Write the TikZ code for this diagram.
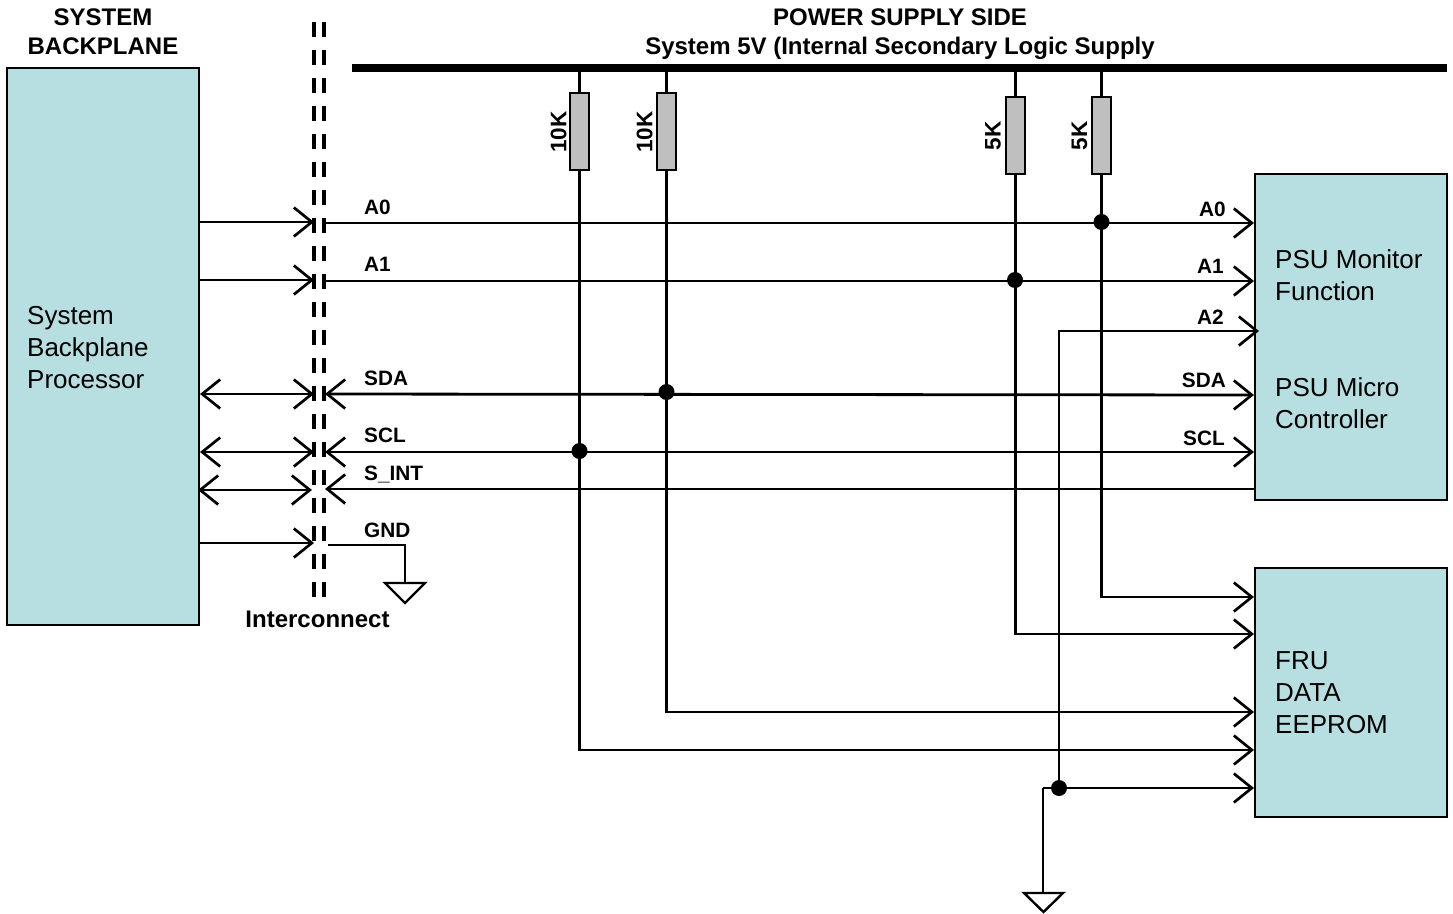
\documentclass[tikz,border=0pt]{standalone}
\usepackage{fontspec}
\setmainfont{Liberation Sans}
\usetikzlibrary{arrows.meta}
\definecolor{boxfill}{HTML}{B7DFE1}
\definecolor{resfill}{HTML}{BFBFBF}
\tikzset{
  x=1pt,y=-1pt,
  barb/.tip={Straight Barb[length=18pt,width=29pt,line width=2.7pt]},
  wire/.style={line width=2.8pt,line cap=butt,line join=miter},
  arr/.style={wire,-barb},
  biarr/.style={wire,barb-barb},
  block/.style={draw=black,line width=2.2pt,fill=boxfill,inner sep=0pt,anchor=north west},
  res/.style={draw=black,line width=2.2pt,fill=resfill,inner sep=0pt,minimum width=19pt,minimum height=77pt},
  dot/.style={circle,fill=black,inner sep=0pt,minimum size=16pt},
  sig/.style={font=\bfseries\fontsize{20.8}{24}\selectfont,inner sep=0pt},
  head/.style={font=\bfseries\fontsize{24}{29}\selectfont,inner sep=0pt,anchor=base},
  body/.style={font=\fontsize{26}{32}\selectfont,inner sep=0pt,align=left,anchor=west},
  rlabel/.style={font=\bfseries\fontsize{22.5}{24}\selectfont,inner sep=0pt,rotate=90},
  gnd/.style={draw=black,line width=2.4pt,line join=miter},
  ic/.style={line width=4pt,dash pattern=on 15pt off 13pt},
}
\begin{document}
\begin{tikzpicture}
\useasboundingbox (0,0) rectangle (1453,913);
% blocks
\node[block,minimum width=192pt,minimum height=557pt] (sys) at (5.5,66.5) {};
\node[block,minimum width=192pt,minimum height=326pt] (psu) at (1253.5,172.5) {};
\node[block,minimum width=192pt,minimum height=249pt] (fru) at (1253.5,566.5) {};
% bus
\node[fill=black,inner sep=0pt,minimum width=1095pt,minimum height=8pt,anchor=west] (bus) at (352,68) {};
% resistors
\node[res] (r1) at (579.5,131.5) {};
\node[res] (r2) at (666.5,131.5) {};
\node[res] (r3) at (1015.3,135.5) {};
\node[res] (r4) at (1101.5,135.5) {};
\node[rlabel] (l1) at (558.5,132) {10K};
\node[rlabel] (l2) at (644.5,132) {10K};
\node[rlabel] (l3) at (993,136) {5K};
\node[rlabel] (l4) at (1079.5,136) {5K};
% interconnect
\coordinate (ia) at (314,22); \coordinate (ib) at (314,597);
\coordinate (ic) at (323.5,22); \coordinate (id) at (323.5,597);
\draw[ic] (ia) -- (ib);
\draw[ic] (ic) -- (id);
% named end points
\coordinate (a0L) at (199,222); \coordinate (a0M) at (314,222);
\coordinate (a0N) at (324,223); \coordinate (a0R) at (1254,223);
\coordinate (a1L) at (199,280); \coordinate (a1M) at (314,280);
\coordinate (a1N) at (324,281); \coordinate (a1R) at (1254,281);
\coordinate (sdaL) at (200,394); \coordinate (sdaM) at (314,394);
\coordinate (sdaN) at (325,394); \coordinate (sdaR) at (1254,395);
\coordinate (sclL) at (200,452); \coordinate (sclM) at (314,452);
\coordinate (sclN) at (325,452); \coordinate (sclR) at (1254,452);
\coordinate (intL) at (198,490); \coordinate (intM) at (312,490);
\coordinate (intN) at (325,489); \coordinate (intR) at (1255,489);
\coordinate (gndL) at (199,543); \coordinate (gndM) at (314,543);
\coordinate (gndN) at (328,545); \coordinate (gndC) at (405,545); \coordinate (gndT) at (405,583);
\coordinate (a2C) at (1059,331); \coordinate (a2R) at (1259,331);
\coordinate (e1) at (1254,597); \coordinate (e2) at (1254,634);
\coordinate (e3) at (1254,712); \coordinate (e4) at (1254,750);
\coordinate (e5) at (1254,788);
\coordinate (gcorner) at (1043,788); \coordinate (g2T) at (1043,893);
% signal wires
\draw[arr] (a0L) -- (a0M);
\draw[arr] (a1L) -- (a1M);
\draw[arr] (gndL) -- (gndM);
\draw[biarr] (sdaL) -- (sdaM);
\draw[biarr] (sclL) -- (sclM);
\draw[biarr] (intL) -- (intM);
\draw[arr] (a0N) -- (a0R);
\draw[arr] (a1N) -- (a1R);
\draw[biarr] (sdaN) -- (sdaR);
\draw[biarr] (sclN) -- (sclR);
\draw[wire,barb-] (intN) -- (intR);
\draw[wire] (gndN) -- (gndC) -- (gndT);
\draw[gnd] (385,583) -- (425,583) -- (405,603) -- cycle;
% pull-ups
\foreach \r in {r1,r2,r3,r4} \draw[wire] (\r.north) -- (\r.north |- bus.south);
\draw[arr] (r4.south) |- (e1);
\draw[arr] (r3.south) |- (e2);
\draw[arr] (r2.south) |- (e3);
\draw[arr] (r1.south) |- (e4);
% A2 and ground
\draw[arr] (a2C |- e5) -- (a2C) -- (a2R);
\draw[arr] (gcorner) -- (e5);
\draw[wire] (gcorner) -- (g2T);
\draw[gnd] (1024,893) -- (1063,893) -- (1043.5,912) -- cycle;
% dots
\node[dot] (d1) at (1101.5,222) {};
\node[dot] (d2) at (1015,280) {};
\node[dot] (d3) at (666.5,392) {};
\node[dot] (d4) at (579.5,451) {};
\node[dot] (d5) at (1059,788) {};
% signal labels
\node[sig,anchor=west] (ta0) at (364,207) {A0};
\node[sig,anchor=west] (ta1) at (364,264) {A1};
\node[sig,anchor=west] (tsda) at (364,378) {SDA};
\node[sig,anchor=west] (tscl) at (364,435) {SCL};
\node[sig,anchor=west] (tint) at (364,475) {S\_INT};
\node[sig,anchor=west] (tgnd) at (364,530) {GND};
\node[sig,anchor=east] (ra0) at (1226,209) {A0};
\node[sig,anchor=east] (ra1) at (1224,266) {A1};
\node[sig,anchor=east] (ra2) at (1224,317) {A2};
\node[sig,anchor=east] (rsda) at (1226,380) {SDA};
\node[sig,anchor=east] (rscl) at (1225,438) {SCL};
% headings
\node[head] (hs1) at (103,25) {SYSTEM};
\node[head] (hs2) at (103,54) {BACKPLANE};
\node[head] (hp1) at (900,25) {POWER SUPPLY SIDE};
\node[head] (hp2) at (900,54) {System 5V (Internal Secondary Logic Supply};
\node[head] (hi) at (317.5,627.5) {Interconnect};
% block text
\node[body] (ts) at (27,348) {System\\Backplane\\Processor};
\node[body] (tm) at (1275,275) {PSU Monitor\\Function};
\node[body] (tc) at (1275,403) {PSU Micro\\Controller};
\node[body] (tf) at (1275,693) {FRU\\DATA\\EEPROM};
\end{tikzpicture}
\end{document}
